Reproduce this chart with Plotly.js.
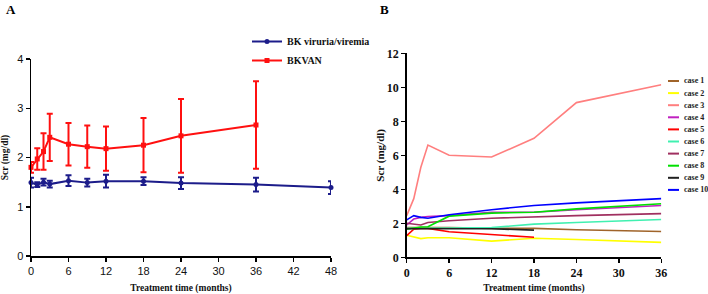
<!DOCTYPE html>
<html><head><meta charset="utf-8">
<script src="https://cdn.plot.ly/plotly-3.0.1.min.js"></script>
<style>html,body{margin:0;padding:0;background:#fff;}#chart{width:708px;height:294px;}</style>
</head><body><div id="chart"></div>
<script>
// ---------- Panel A data ----------
const monthsBK = [0, 1, 2, 3, 6, 9, 12, 18, 24, 36, 48];
const scrBK = [1.49, 1.45, 1.50, 1.46, 1.53, 1.49, 1.52, 1.52, 1.48, 1.45, 1.39];
const sdBK = [0.10, 0.05, 0.07, 0.07, 0.11, 0.08, 0.13, 0.08, 0.12, 0.14, 0.13];
const monthsVAN = [0, 1, 2, 3, 6, 9, 12, 18, 24, 36];
const scrVAN = [1.80, 1.97, 2.12, 2.41, 2.27, 2.22, 2.18, 2.25, 2.44, 2.66];
const sdVAN = [0.11, 0.22, 0.37, 0.48, 0.43, 0.43, 0.45, 0.55, 0.75, 0.89];
const seriesNamesA = ['BK viruria/viremia', 'BKVAN'];

// ---------- Panel B data ----------
const monthsB = [0, 1, 2, 3, 6, 12, 18, 24, 36];
const caseNames = ['case 1', 'case 2', 'case 3', 'case 4', 'case 5', 'case 6', 'case 7', 'case 8', 'case 9', 'case 10'];
const case1 = [1.75, 1.75, 1.75, 1.75, 1.75, 1.70, 1.70, 1.62, 1.52];
const case2 = [1.30, 1.20, 1.10, 1.15, 1.15, 0.95, 1.12, 1.05, 0.88];
const case3 = [2.45, 3.45, 5.30, 6.60, 6.00, 5.90, 7.00, 9.10, 10.15];
const case4 = [1.90, 2.25, 2.35, 2.40, 2.45, 2.65, 2.65, 2.80, 3.05];
const case5 = [1.28, 1.65, 1.70, 1.70, 1.50, 1.35, 1.18];
const case6 = [1.70, 1.70, 1.70, 1.72, 1.72, 1.75, 1.95, 2.05, 2.22];
const case7 = [2.00, 1.95, 1.90, 2.05, 2.15, 2.30, 2.38, 2.45, 2.57];
const case8 = [1.65, 1.72, 1.78, 1.80, 2.42, 2.60, 2.65, 2.85, 3.15];
const case9 = [1.68, 1.68, 1.68, 1.68, 1.70, 1.68, 1.60];
const case10 = [2.20, 2.45, 2.35, 2.30, 2.50, 2.80, 3.05, 3.20, 3.45];
const caseValues = [case1, case2, case3, case4, case5, case6, case7, case8, case9, case10];

// ---------- styles ----------
const W = 708, H = 294;
const colBK = '#1c1c8a', colVAN = '#ff1010';
const caseColors = ['#a0642a', '#ffff00', '#ff7f7f', '#c020c0', '#ff0000', '#40f0b0', '#a03060', '#00e000', '#202020', '#0000ff'];
const serif = 'Liberation Serif, Times New Roman, serif';
const sans = 'Liberation Sans, Arial, sans-serif';
const px = v => v / W, py = v => (H - v) / H;

const traces = [];
traces.push({
  x: monthsBK, y: scrBK, name: seriesNamesA[0], type: 'scatter', mode: 'lines+markers',
  xaxis: 'x', yaxis: 'y', cliponaxis: false,
  line: {color: colBK, width: 2}, marker: {color: colBK, size: 5, symbol: 'circle'},
  error_y: {type: 'data', array: sdBK, visible: true, color: colBK, thickness: 2, width: 3}
});
traces.push({
  x: monthsVAN, y: scrVAN, name: seriesNamesA[1], type: 'scatter', mode: 'lines+markers',
  xaxis: 'x', yaxis: 'y', cliponaxis: false,
  line: {color: colVAN, width: 2}, marker: {color: colVAN, size: 5, symbol: 'square'},
  error_y: {type: 'data', array: sdVAN, visible: true, color: colVAN, thickness: 2, width: 3}
});
caseValues.forEach((vals, i) => {
  traces.push({
    x: monthsB.slice(0, vals.length), y: vals, name: caseNames[i], type: 'scatter', mode: 'lines',
    xaxis: 'x2', yaxis: 'y2', showlegend: false, cliponaxis: false,
    line: {color: caseColors[i], width: 1.6}
  });
});

// legend for panel B (compact, built from names/colours)
const annotations = [
  {text: '<b>A</b>', x: px(4), y: py(9), xref: 'paper', yref: 'paper', xanchor: 'left', yanchor: 'middle', showarrow: false, font: {family: serif, size: 13, color: '#000'}},
  {text: '<b>B</b>', x: px(378), y: py(9), xref: 'paper', yref: 'paper', xanchor: 'left', yanchor: 'middle', showarrow: false, font: {family: serif, size: 13, color: '#000'}}
];
const shapes = [];
caseNames.forEach((nm, i) => {
  const yy = 81 + i * 12.1;
  annotations.push({text: nm, x: px(682), y: py(yy), xref: 'paper', yref: 'paper', xanchor: 'left', yanchor: 'middle', showarrow: false, font: {family: serif, size: 8, color: '#222', weight: 'bold'}});
  shapes.push({type: 'line', xref: 'paper', yref: 'paper', x0: px(668), x1: px(679), y0: py(yy), y1: py(yy), line: {color: caseColors[i], width: 2}});
});

const axisCommon = {
  showgrid: false, zeroline: false, showline: true, linecolor: '#000', linewidth: 1.5,
  ticks: 'outside', ticklen: 4, tickwidth: 1.5, tickcolor: '#000', automargin: false, fixedrange: true
};

const layout = {
  width: W, height: H, margin: {l: 0, r: 0, t: 0, b: 0},
  paper_bgcolor: '#fff', plot_bgcolor: '#fff',
  showlegend: true,
  legend: {x: px(247), y: py(27), xanchor: 'left', yanchor: 'top', bgcolor: 'rgba(0,0,0,0)',
    font: {family: serif, size: 10, color: '#111', weight: 'bold'}, itemwidth: 30, tracegroupgap: 0},
  xaxis: Object.assign({}, axisCommon, {domain: [px(31), px(331)], range: [0, 48], tickmode: 'array', tickvals: [0, 6, 12, 18, 24, 30, 36, 42, 48],
    tickfont: {family: sans, size: 11, color: '#111'}, anchor: 'y',
    title: {text: 'Treatment time (months)', standoff: 9, font: {family: serif, size: 9.5, color: '#111', weight: 'bold'}}}),
  yaxis: Object.assign({}, axisCommon, {domain: [py(256), py(59)], range: [0, 4], tickmode: 'array', tickvals: [0, 1, 2, 3, 4],
    tickfont: {family: sans, size: 11, color: '#111'}, anchor: 'x',
    title: {text: 'Scr (mg/dl)', standoff: 8, font: {family: serif, size: 9.5, color: '#111', weight: 'bold'}}}),
  xaxis2: Object.assign({}, axisCommon, {domain: [px(406.7), px(661.3)], range: [0, 36], tickmode: 'array', tickvals: [0, 6, 12, 18, 24, 30, 36],
    tickfont: {family: serif, size: 12, color: '#111', weight: 'bold'}, anchor: 'y2',
    title: {text: 'Treatment time (months)', standoff: 13, font: {family: serif, size: 9.5, color: '#111', weight: 'bold'}}}),
  yaxis2: Object.assign({}, axisCommon, {domain: [py(257.3), py(53.3)], range: [0, 12], tickmode: 'array', tickvals: [0, 2, 4, 6, 8, 10, 12],
    tickfont: {family: serif, size: 12, color: '#111', weight: 'bold'}, anchor: 'x2',
    title: {text: 'Scr (mg/dl)', standoff: 0, font: {family: serif, size: 11, color: '#111', weight: 'bold'}}}),
  annotations: annotations,
  shapes: shapes
};

Plotly.newPlot('chart', traces, layout, {displayModeBar: false, staticPlot: true});
</script>
</body></html>
